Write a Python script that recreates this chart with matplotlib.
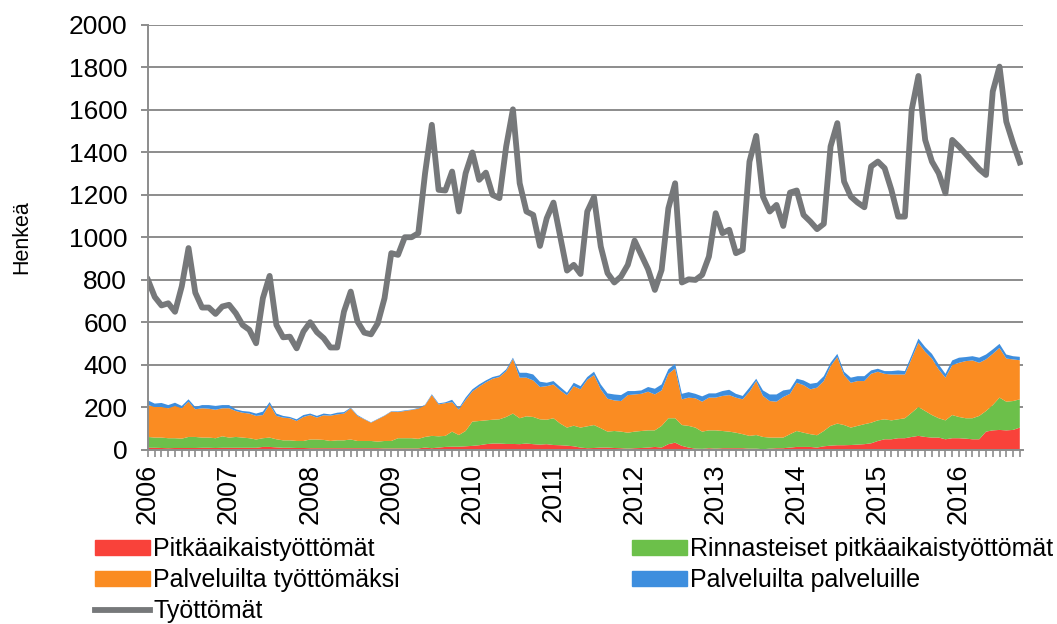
import numpy as np
import matplotlib
matplotlib.use("Agg")
import matplotlib.pyplot as plt
from matplotlib.patches import Patch
from matplotlib.lines import Line2D

plt.rcParams['font.family'] = ['Liberation Sans', 'DejaVu Sans']

# Kuukausittaiset arvot 1/2006 - 10/2016
years = [str(y) for y in range(2006, 2017)]

pitkaaikais = [10, 10, 9, 8, 9, 9, 9, 9, 10, 10, 9, 10,
               10, 10, 10, 10, 10, 14, 14, 12, 10, 10, 9, 9,
               8, 8, 8, 8, 8, 8, 8, 8, 8, 8, 8, 7,
               7, 7, 7, 7, 7, 11, 8, 11, 14, 15, 15, 17,
               19, 22, 27, 30, 30, 28, 28, 27, 30, 27, 25, 27,
               23, 22, 20, 17, 11, 8, 9, 11, 11, 9, 8, 6,
               8, 9, 11, 14, 11, 27, 34, 19, 11, 6, 5, 8,
               6, 8, 8, 8, 8, 6, 6, 3, 6, 8, 8, 11,
               14, 14, 14, 11, 17, 20, 22, 22, 23, 25, 27, 31,
               42, 50, 50, 55, 55, 61, 66, 61, 58, 58, 50, 55,
               55, 53, 50, 50, 86, 92, 94, 92, 94, 105]

rinnasteiset = [51, 48, 49, 47, 46, 44, 52, 52, 48, 48, 46, 54,
                48, 51, 48, 45, 39, 41, 44, 38, 35, 35, 33, 33,
                41, 41, 39, 34, 37, 37, 41, 34, 34, 34, 31, 35,
                35, 48, 48, 48, 45, 50, 58, 53, 52, 71, 55, 72,
                114, 114, 112, 112, 114, 127, 143, 122, 128, 128, 119, 115,
                126, 102, 85, 97, 94, 103, 108, 91, 75, 80, 78, 75,
                78, 80, 81, 78, 102, 122, 115, 98, 102, 99, 81, 84,
                86, 81, 78, 73, 66, 60, 64, 58, 52, 50, 50, 63,
                75, 67, 60, 58, 72, 93, 102, 95, 82, 88, 94, 97,
                97, 94, 89, 89, 94, 114, 136, 122, 106, 91, 89, 109,
                100, 96, 99, 110, 97, 119, 152, 135, 136, 133]

palv_tyottomaksi = [150, 144, 144, 141, 152, 143, 166, 130, 138, 136, 134, 132,
                    138, 122, 117, 116, 111, 109, 156, 110, 107, 104, 94, 113,
                    115, 103, 116, 119, 122, 126, 147, 118, 102, 86, 105, 118,
                    138, 123, 128, 133, 142, 149, 192, 150, 154, 139, 120, 146,
                    142, 162, 179, 193, 199, 215, 257, 191, 182, 172, 152, 158,
                    159, 156, 152, 186, 180, 219, 235, 183, 155, 144, 144, 177,
                    175, 175, 182, 169, 167, 209, 234, 121, 133, 138, 141, 154,
                    154, 165, 172, 165, 164, 208, 254, 193, 172, 169, 191, 190,
                    227, 224, 211, 224, 235, 281, 313, 235, 211, 211, 203, 230,
                    229, 214, 216, 211, 206, 255, 302, 279, 266, 230, 201, 235,
                    255, 269, 272, 250, 243, 241, 234, 203, 196, 184]

palv_palveluille = [22, 16, 19, 15, 15, 11, 11, 11, 15, 17, 18, 15,
                    15, 8, 8, 9, 11, 16, 11, 11, 8, 6, 8, 9,
                    7, 8, 8, 6, 8, 7, 3, 4, 2, 2, 2, 2,
                    2, 3, 3, 2, 3, 3, 4, 5, 4, 11, 6, 11,
                    10, 10, 9, 8, 8, 9, 6, 23, 23, 28, 25, 16,
                    16, 16, 12, 16, 15, 13, 16, 23, 25, 28, 28, 19,
                    16, 16, 22, 27, 28, 21, 22, 26, 26, 21, 25, 20,
                    20, 23, 25, 18, 16, 19, 11, 26, 31, 34, 31, 21,
                    19, 22, 26, 23, 23, 16, 15, 16, 24, 23, 23, 16,
                    14, 13, 16, 19, 16, 16, 20, 22, 22, 23, 18, 22,
                    24, 19, 20, 24, 23, 21, 19, 19, 15, 16]

tyottomat = [800, 720, 680, 690, 650, 770, 950, 740, 670, 670, 640, 675,
             683, 643, 588, 565, 502, 714, 819, 588, 530, 533, 478, 557,
             601, 554, 526, 482, 482, 651, 745, 604, 552, 544, 596, 714,
             926, 918, 1001, 1001, 1020, 1302, 1530, 1224, 1221, 1310, 1122, 1302,
             1400, 1271, 1305, 1200, 1185, 1428, 1603, 1255, 1122, 1106, 960, 1090,
             1164, 1004, 844, 871, 828, 1122, 1190, 957, 832, 788, 816, 871,
             985, 918, 850, 753, 847, 1137, 1255, 788, 803, 800, 824, 910,
             1114, 1020, 1036, 926, 941, 1357, 1478, 1192, 1122, 1153, 1054, 1211,
             1221, 1106, 1075, 1039, 1064, 1428, 1538, 1263, 1192, 1164, 1142, 1334,
             1357, 1326, 1224, 1098, 1098, 1600, 1760, 1459, 1357, 1302, 1208, 1459,
             1428, 1393, 1357, 1321, 1294, 1687, 1804, 1545, 1444, 1353]

c_red = '#F9423A'
c_green = '#6CC04A'
c_orange = '#FA8C22'
c_blue = '#3E8EDE'
c_gray = '#76787A'
c_grid = '#8C8C8C'

x = np.arange(len(tyottomat))

fig = plt.figure(figsize=(10.57, 6.24), dpi=100)
ax = fig.add_axes([0.140, 0.279, 0.828, 0.681])

ax.stackplot(x, pitkaaikais, rinnasteiset, palv_tyottomaksi, palv_palveluille,
             colors=[c_red, c_green, c_orange, c_blue], linewidth=0)
ax.plot(x, tyottomat, color=c_gray, lw=4.2, solid_joinstyle='round')

ax.set_ylim(0, 2000)
ax.set_xlim(0, len(x) - 0.5)
ax.set_yticks(range(0, 2001, 200))
ax.yaxis.grid(True, color=c_grid, lw=1.4)
ax.set_axisbelow(True)

ax.set_xticks(np.arange(0, len(x), 12))
ax.set_xticklabels(years, rotation=90, fontsize=19.5)
ax.set_xticks(x, minor=True)
ax.tick_params(axis='x', which='both', length=5, width=1.2, color=c_grid, pad=5)
ax.tick_params(axis='y', length=5, width=1.4, color=c_grid, pad=10, labelsize=19)

for s in ['top', 'right']:
    ax.spines[s].set_visible(False)
for s in ['left', 'bottom']:
    ax.spines[s].set_color(c_grid)
    ax.spines[s].set_linewidth(1.4)

ax.set_ylabel('Henkeä', fontsize=15.5, labelpad=26)

handles = [Patch(color=c_red), Patch(color=c_orange),
           Line2D([], [], color=c_gray, lw=4.2),
           Patch(color=c_green), Patch(color=c_blue)]
labels = ['Pitkäaikaistyöttömät', 'Palveluilta työttömäksi', 'Työttömät',
          'Rinnasteiset pitkäaikaistyöttömät', 'Palveluilta palveluille']
fig.legend(handles, labels, loc='upper left', bbox_to_anchor=(0.0899, 0.139),
           bbox_transform=fig.transFigure, ncol=2, frameon=False, fontsize=18,
           handlelength=2.2, handleheight=0.6, handletextpad=0.12,
           labelspacing=0.28, columnspacing=9.3, borderaxespad=0, borderpad=0)

fig.savefig('out.png', dpi=100)
